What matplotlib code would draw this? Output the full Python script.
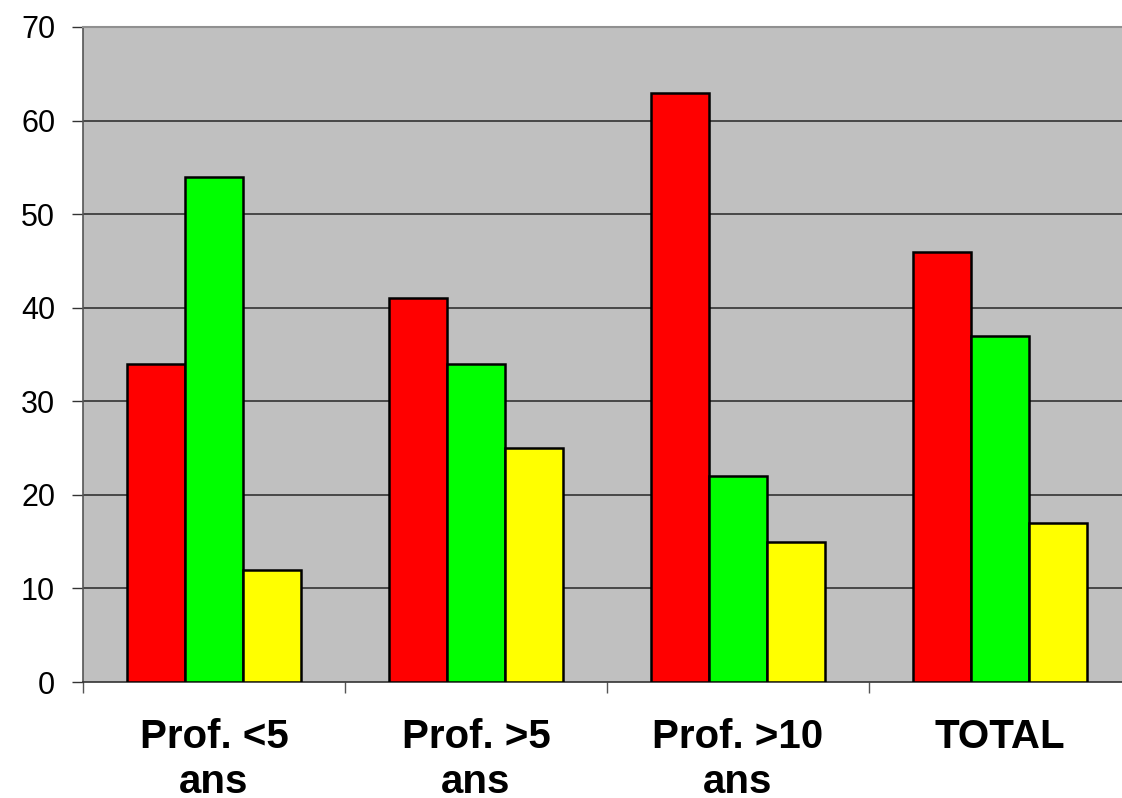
import numpy as np
import matplotlib.pyplot as plt

categories = ["Prof. <5\nans", "Prof. >5\nans", "Prof. >10\nans", "TOTAL"]
serie_rouge = [34, 41, 63, 46]
serie_verte = [54, 34, 22, 37]
serie_jaune = [12, 25, 15, 17]
yticks = [0, 10, 20, 30, 40, 50, 60, 70]

plt.rcParams['font.family'] = ['Liberation Sans', 'DejaVu Sans']

fig = plt.figure(figsize=(11.22, 7.98), dpi=100)
ax = fig.add_axes([83/1122, 1 - 682/798, (1131 - 83)/1122, 655/798])
ax.set_facecolor('#C0C0C0')

x = np.arange(len(categories))
w = 0.222
series = [(serie_rouge, '#FF0000'), (serie_verte, '#00FF00'), (serie_jaune, '#FFFF00')]
for i, (vals, col) in enumerate(series):
    ax.bar(x + (i - 1) * w, vals, width=w, color=col, edgecolor='black',
           linewidth=1.8, zorder=3)

ax.set_xlim(-0.5, len(categories) - 0.5)
ax.set_ylim(0, 70)
ax.set_yticks(yticks)
ax.tick_params(axis='y', labelsize=22, length=8, width=1, pad=12, color='#333333')
for y in yticks[1:-1]:
    ax.axhline(y, color='#333333', linewidth=1.2, zorder=1)

# ticks between categories, labels centered
ax.set_xticks(np.arange(len(categories) + 1) - 0.5)
ax.set_xticklabels([])
ax.tick_params(axis='x', which='major', length=8, width=1, color='#555555')
ax.set_xticks(x, minor=True)
ax.set_xticklabels(categories, minor=True, fontsize=29, fontweight='bold',
                   linespacing=1.22)
ax.tick_params(axis='x', which='minor', length=0, pad=26)

ax.spines['right'].set_visible(False)
ax.spines['top'].set_color('#909090')
ax.spines['top'].set_linewidth(1.5)
ax.spines['left'].set_color('#555555')
ax.spines['left'].set_linewidth(1.2)
ax.spines['bottom'].set_color('#333333')
ax.spines['bottom'].set_linewidth(1.2)

fig.savefig('out.png', dpi=100)
